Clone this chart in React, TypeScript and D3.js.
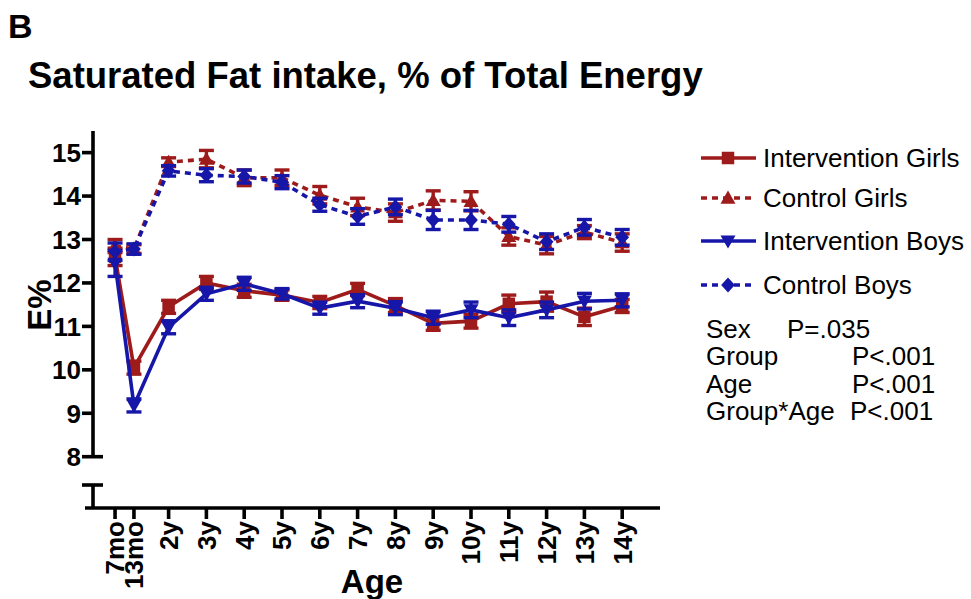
import * as d3 from 'd3';

// Age points (in years) and their tick labels
const AGES = [7 / 12, 13 / 12, 2, 3, 4, 5, 6, 7, 8, 9, 10, 11, 12, 13, 14];
const AGE_LABELS = ['7mo', '13mo', '2y', '3y', '4y', '5y', '6y', '7y', '8y', '9y', '10y', '11y', '12y', '13y', '14y'];

// Mean E% per age
const INTERVENTION_GIRLS = [12.6, 10.05, 11.45, 12.0, 11.82, 11.72, 11.55, 11.85, 11.48, 11.07, 11.12, 11.52, 11.57, 11.22, 11.47];
const CONTROL_GIRLS = [12.85, 12.78, 14.78, 14.85, 14.42, 14.42, 14.02, 13.75, 13.62, 13.9, 13.88, 13.07, 12.87, 13.17, 12.93];
const INTERVENTION_BOYS = [12.45, 9.18, 10.98, 11.75, 11.98, 11.75, 11.42, 11.58, 11.42, 11.2, 11.38, 11.2, 11.38, 11.58, 11.6];
const CONTROL_BOYS = [12.72, 12.78, 14.58, 14.48, 14.45, 14.32, 13.8, 13.53, 13.75, 13.45, 13.45, 13.35, 12.95, 13.28, 13.05];

// Error bar half-widths (SEM)
const ERR_IG = [0.2, 0.15, 0.15, 0.15, 0.15, 0.12, 0.14, 0.14, 0.16, 0.16, 0.16, 0.2, 0.22, 0.2, 0.15];
const ERR_CG = [0.15, 0.1, 0.1, 0.2, 0.18, 0.18, 0.2, 0.2, 0.2, 0.22, 0.22, 0.2, 0.2, 0.15, 0.2];
const ERR_IB = [0.3, 0.15, 0.15, 0.15, 0.15, 0.12, 0.14, 0.15, 0.15, 0.15, 0.18, 0.18, 0.18, 0.18, 0.15];
const ERR_CB = [0.2, 0.12, 0.12, 0.15, 0.15, 0.15, 0.15, 0.18, 0.18, 0.22, 0.22, 0.18, 0.18, 0.18, 0.18];

const Y_TICKS = [8, 9, 10, 11, 12, 13, 14, 15];

const STATS = [
  ['Sex', 'P=.035', 787],
  ['Group', 'P<.001', 852],
  ['Age', 'P<.001', 852],
  ['Group*Age', 'P<.001', 850],
] as const;

const RED = '#9E1B1B';
const BLUE = '#1616A8';
const FONT = '"Liberation Sans", Arial, Helvetica, sans-serif';

type Marker = 'square' | 'triUp' | 'triDown' | 'diamond';

const SERIES: { name: string; values: number[]; err: number[]; color: string; dashed: boolean; marker: Marker }[] = [
  { name: 'Intervention Girls', values: INTERVENTION_GIRLS, err: ERR_IG, color: RED, dashed: false, marker: 'square' },
  { name: 'Control Girls', values: CONTROL_GIRLS, err: ERR_CG, color: RED, dashed: true, marker: 'triUp' },
  { name: 'Intervention Boys', values: INTERVENTION_BOYS, err: ERR_IB, color: BLUE, dashed: false, marker: 'triDown' },
  { name: 'Control Boys', values: CONTROL_BOYS, err: ERR_CB, color: BLUE, dashed: true, marker: 'diamond' },
];

function markerPath(m: Marker, s: number) {
  if (m === 'square') return `M${-s / 2},${-s / 2}h${s}v${s}h${-s}Z`;
  if (m === 'triUp') return `M0,${-s * 0.6}L${s * 0.6},${s * 0.45}L${-s * 0.6},${s * 0.45}Z`;
  if (m === 'triDown') return `M0,${s * 0.6}L${s * 0.6},${-s * 0.45}L${-s * 0.6},${-s * 0.45}Z`;
  return `M0,${-s * 0.6}L${s * 0.55},0L0,${s * 0.6}L${-s * 0.55},0Z`;
}

export default function App() {
  const x = d3.scaleLinear().domain([0, 15]).range([93, 660]);
  const y = d3.scaleLinear().domain([8, 15.5]).range([456.7, 130.9]);
  const axisY = 508; // x-axis position (below the axis break)
  const breakTop = 485;

  const line = d3.line<number>()
    .x((_, i) => x(AGES[i]))
    .y((d) => y(d));

  return (
    <div style={{ position: 'absolute', left: 0, top: 0 }}>
      <svg width={971} height={599} style={{ display: 'block', background: '#fff' }} fontFamily={FONT}>
        <text x={8} y={38} fontSize={34} fontWeight="bold">B</text>
        <text x={28} y={88} fontSize={36.5} fontWeight="bold">Saturated Fat intake, % of Total Energy</text>

        {/* Y axis (upper segment, with break) */}
        <g stroke="#000" strokeWidth={3.6} strokeLinecap="butt">
          <line x1={x(0)} x2={x(0)} y1={y(15.5)} y2={y(8)} />
          {Y_TICKS.map((t) => (
            <line key={t} x1={x(0) - 11} x2={t === 8 ? x(0) + 10 : x(0)} y1={y(t)} y2={y(t)} />
          ))}
          <line x1={x(0)} x2={x(0)} y1={breakTop} y2={axisY} />
          <line x1={x(0) - 11} x2={x(0) + 10} y1={breakTop} y2={breakTop} />
          {/* X axis */}
          <line x1={x(0) - 8} x2={x(15)} y1={axisY} y2={axisY} />
          {AGES.map((a, i) => (
            <line key={i} x1={x(a)} x2={x(a)} y1={axisY} y2={axisY + 11} />
          ))}
        </g>
        {Y_TICKS.map((t) => (
          <text key={t} x={81} y={y(t)} dy="0.36em" textAnchor="end" fontSize={26} fontWeight="bold">{t}</text>
        ))}
        {AGES.map((a, i) => (
          <text key={i} transform={`translate(${x(a)},${axisY + 13}) rotate(-90)`} dy="0.36em" textAnchor="end" fontSize={26} fontWeight="bold">
            {AGE_LABELS[i]}
          </text>
        ))}
        <text transform={`translate(51,305) rotate(-90)`} textAnchor="middle" fontSize={33} fontWeight="bold">E%</text>
        <text x={372} y={593} textAnchor="middle" fontSize={33} fontWeight="bold">Age</text>

        {/* Series */}
        {SERIES.map((s) => (
          <g key={s.name}>
            <path d={line(s.values) ?? ''} fill="none" stroke={s.color} strokeWidth={3.6} strokeDasharray={s.dashed ? '6,5' : undefined} />
            {s.values.map((v, i) => (
              <g key={i} stroke={s.color} strokeWidth={3.4}>
                <line x1={x(AGES[i])} x2={x(AGES[i])} y1={y(v - s.err[i])} y2={y(v + s.err[i])} />
                <line x1={x(AGES[i]) - 7.5} x2={x(AGES[i]) + 7.5} y1={y(v - s.err[i])} y2={y(v - s.err[i])} />
                <line x1={x(AGES[i]) - 7.5} x2={x(AGES[i]) + 7.5} y1={y(v + s.err[i])} y2={y(v + s.err[i])} />
              </g>
            ))}
            {s.values.map((v, i) => (
              <path key={i} d={markerPath(s.marker, 12.5)} transform={`translate(${x(AGES[i])},${y(v)})`} fill={s.color} />
            ))}
          </g>
        ))}

        {/* Legend */}
        {SERIES.map((s, i) => {
          const cy = [158, 198, 241, 285][i];
          return (
            <g key={s.name}>
              <line x1={701} x2={756} y1={cy} y2={cy} stroke={s.color} strokeWidth={3.4} strokeDasharray={s.dashed ? '6,5' : undefined} />
              <path d={markerPath(s.marker, 12.5)} transform={`translate(728,${cy})`} fill={s.color} />
              <text x={763} y={cy} dy="0.36em" fontSize={26}>{s.name}</text>
            </g>
          );
        })}
        {STATS.map(([label, p, px], i) => (
          <g key={label} fontSize={26}>
            <text x={706} y={338 + i * 27.3}>{label}</text>
            <text x={px} y={338 + i * 27.3}>{p}</text>
          </g>
        ))}
      </svg>
    </div>
  );
}
